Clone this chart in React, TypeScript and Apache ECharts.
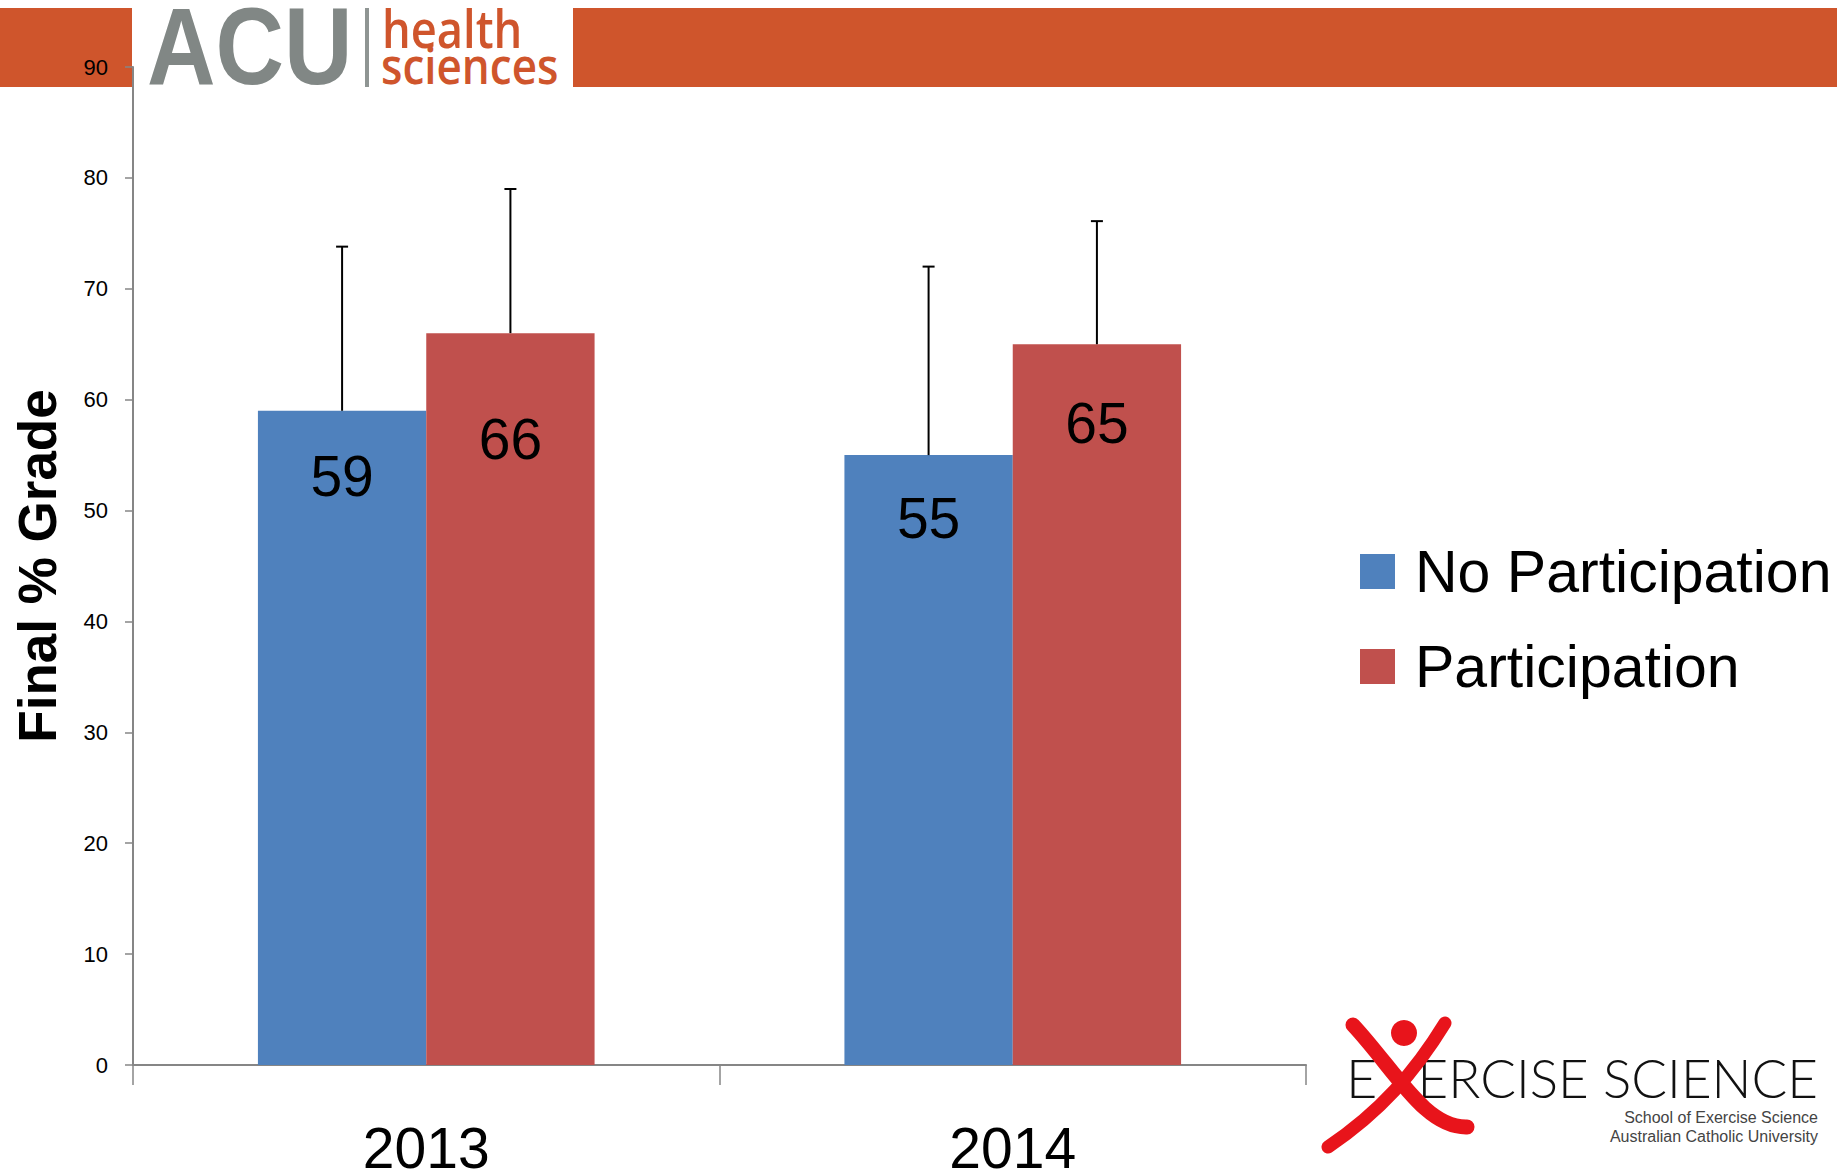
import React, { useEffect, useRef } from "react";
import * as echarts from "echarts";

const categories = ["2013", "2014"];
const noParticipation = [59, 55];
const participation = [66, 65];
const noParticipationErrTop = [73.8, 72];
const participationErrTop = [79, 76.1];
const seriesNames = ["No Participation", "Participation"];
const yMin = 0;
const yMax = 90;
const yInterval = 10;

const BLUE = "#4F81BD";
const RED = "#C0504D";
const ORANGE = "#CF552C";
const AXIS_GRAY = "#868686";
const FONT = "'Liberation Sans', Arial, sans-serif";
const BAR_W_FRAC = 0.287;
// vertical drop of each value label inside its bar (style only)
const LABEL_DROPS = [
  [32, 29],
  [72, 45],
];

export default function App() {
  const ref = useRef<HTMLDivElement>(null);

  useEffect(() => {
    if (!ref.current) return;
    const chart = echarts.init(ref.current, undefined, { renderer: "svg" });

    const errData: number[][] = [];
    categories.forEach((_, i) => {
      errData.push([i, noParticipation[i], noParticipationErrTop[i], 0]);
      errData.push([i, participation[i], participationErrTop[i], 1]);
    });

    const mkBar = (name: string, vals: number[], color: string, si: number) => ({
      name,
      type: "bar",
      barWidth: BAR_W_FRAC * 100 + "%",
      barGap: "0%",
      itemStyle: { color },
      data: vals.map((v, i) => ({
        value: v,
        label: { offset: [0, LABEL_DROPS[si][i]] },
      })),
      label: {
        show: true,
        position: "insideTop",
        fontSize: 57,
        fontFamily: FONT,
        color: "#000",
      },
      z: 2,
    });

    const option: any = {
      animation: false,
      backgroundColor: "#fff",
      grid: {
        left: 133,
        right: 531,
        top: 67,
        bottom: 106,
        containLabel: false,
        outerBoundsMode: "none",
      },
      legend: {
        data: seriesNames,
        orient: "vertical",
        left: 1360,
        top: 542,
        padding: 0,
        itemWidth: 35,
        itemHeight: 35,
        itemGap: 36,
        icon: "rect",
        selectedMode: false,
        textStyle: {
          fontSize: 59,
          lineHeight: 57,
          fontFamily: FONT,
          color: "#000",
          padding: [0, 0, 0, 15],
        },
      },
      xAxis: {
        type: "category",
        data: categories,
        axisLine: { show: true, lineStyle: { color: AXIS_GRAY, width: 2 } },
        axisTick: { show: true, length: 20, lineStyle: { color: AXIS_GRAY, width: 1.5 } },
        axisLabel: {
          fontSize: 57,
          lineHeight: 44,
          fontFamily: FONT,
          color: "#000",
          margin: 61,
          interval: 0,
        },
      },
      yAxis: {
        type: "value",
        min: yMin,
        max: yMax,
        interval: yInterval,
        name: "Final % Grade",
        nameLocation: "middle",
        nameGap: 69,
        nameTextStyle: { fontSize: 53, fontWeight: "bold", fontFamily: FONT, color: "#000" },
        axisLine: { show: true, lineStyle: { color: AXIS_GRAY, width: 2 } },
        axisTick: { show: true, length: 8, lineStyle: { color: AXIS_GRAY, width: 1.5 } },
        axisLabel: { fontSize: 22, fontFamily: FONT, color: "#000", margin: 25 },
        splitLine: { show: false },
      },
      series: [
        mkBar(seriesNames[0], noParticipation, BLUE, 0),
        mkBar(seriesNames[1], participation, RED, 1),
        {
          name: "err",
          type: "custom",
          z: 5,
          encode: { x: 0, y: 2 },
          data: errData,
          renderItem: (params: any, api: any) => {
            const cat = api.value(0);
            const v = api.value(1);
            const hi = api.value(2);
            const side = api.value(3);
            const base = api.coord([cat, v]);
            const top = api.coord([cat, hi]);
            const catW = api.size([1, 0])[0];
            const bw = catW * BAR_W_FRAC;
            const x = base[0] + (side === 0 ? -bw / 2 : bw / 2);
            const st = { stroke: "#000", lineWidth: 2 };
            return {
              type: "group",
              children: [
                { type: "line", shape: { x1: x, y1: base[1], x2: x, y2: top[1] }, style: st },
                { type: "line", shape: { x1: x - 6, y1: top[1], x2: x + 6, y2: top[1] }, style: st },
              ],
            };
          },
        },
      ],
      graphic: [
        { type: "rect", left: 0, top: 8, shape: { width: 132, height: 79 }, style: { fill: ORANGE }, z: -1 },
        { type: "rect", left: 573, top: 8, shape: { width: 1264, height: 79 }, style: { fill: ORANGE }, z: -1 },
        {
          type: "text",
          x: 147,
          y: 47,
          scaleX: 0.87,
          style: {
            text: "ACU",
            fontSize: 109,
            lineHeight: 78,
            fontWeight: "bold",
            fontFamily: FONT,
            fill: "#818785",
            align: "left",
            verticalAlign: "middle",
          },
        },
        { type: "rect", left: 365, top: 8, shape: { width: 4, height: 79 }, style: { fill: "#8F9593" } },
        {
          type: "text",
          x: 382,
          y: 28,
          scaleX: 0.87,
          style: {
            text: "health",
            fontSize: 52,
            lineHeight: 38,
            fontFamily: "'Open Sans', sans-serif",
            fontWeight: 600,
            fill: ORANGE,
            align: "left",
            verticalAlign: "middle",
          },
        },
        {
          type: "text",
          x: 381,
          y: 65,
          scaleX: 0.88,
          style: {
            text: "sciences",
            fontSize: 50,
            lineHeight: 38,
            fontFamily: "'Open Sans', sans-serif",
            fontWeight: 600,
            fill: ORANGE,
            align: "left",
            verticalAlign: "middle",
          },
        },
        // Exercise Science logo
        {
          type: "text",
          x: 1346,
          y: 1077,
          style: {
            text: "E",
            fontSize: 54,
            fontFamily: "Lato, sans-serif",
            fontWeight: 300,
            fill: "#111",
            align: "left",
            verticalAlign: "middle",
          },
        },
        {
          type: "text",
          x: 1818,
          y: 1077,
          scaleX: 0.98,
          style: {
            text: "ERCISE SCIENCE",
            fontSize: 54,
            fontFamily: "Lato, sans-serif",
            fontWeight: 300,
            fill: "#111",
            align: "right",
            verticalAlign: "middle",
          },
        },
        {
          type: "text",
          x: 1818,
          y: 1117,
          style: {
            text: "School of Exercise Science",
            fontSize: 16,
            fontFamily: FONT,
            fill: "#444",
            align: "right",
            verticalAlign: "middle",
          },
        },
        {
          type: "text",
          x: 1818,
          y: 1136,
          style: {
            text: "Australian Catholic University",
            fontSize: 16,
            fontFamily: FONT,
            fill: "#444",
            align: "right",
            verticalAlign: "middle",
          },
        },
        {
          type: "bezierCurve",
          shape: { x1: 1353, y1: 1025, cpx1: 1395, cpy1: 1070, cpx2: 1425, cpy2: 1128, x2: 1467, y2: 1127 },
          style: { stroke: "#E8141B", lineWidth: 15, lineCap: "round", fill: null },
        },
        {
          type: "bezierCurve",
          shape: { x1: 1445, y1: 1023, cpx1: 1415, cpy1: 1072, cpx2: 1380, cpy2: 1112, x2: 1328, y2: 1147 },
          style: { stroke: "#E8141B", lineWidth: 13, lineCap: "round", fill: null },
        },
        {
          type: "circle",
          shape: { cx: 1404, cy: 1033, r: 13 },
          style: { fill: "#E8141B" },
        },
      ],
    };

    chart.setOption(option);
    return () => chart.dispose();
  }, []);

  return (
    <div
      ref={ref}
      style={{ position: "fixed", left: 0, top: 0, width: 1837, height: 1171 }}
    />
  );
}
